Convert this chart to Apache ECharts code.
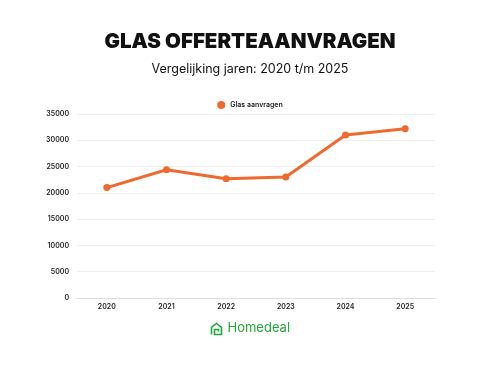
<!DOCTYPE html>
<html>
<head>
<meta charset="utf-8">
<script src="https://cdn.jsdelivr.net/npm/echarts@6/dist/echarts.min.js"></script>
<style>
    html, body { margin: 0; padding: 0; background: #fff; }
    #chart { width: 500px; height: 375px; }
</style>
</head>
<body>
<div id="chart"></div>
<script>
const years = ["2020", "2021", "2022", "2023", "2024", "2025"];
const aanvragen = [21000, 24400, 22700, 23000, 31000, 32200];
const orange = "#ee6a2f";

const chart = echarts.init(document.getElementById("chart"));
const option = {
    backgroundColor: "#fff",
    title: [
        {
            text: "GLAS OFFERTEAANVRAGEN",
            left: "center",
            top: 26,
            textStyle: { fontFamily: "Inter", fontSize: 20.5, fontWeight: 900, color: "#111" },
        },
        {
            text: "Vergelijking jaren: 2020 t/m 2025",
            left: "center",
            top: 58,
            textStyle: { fontFamily: "Inter", fontSize: 12.5, fontWeight: 400, color: "#111" },
        },
    ],
    legend: {
        top: 96,
        left: "center",
        icon: "circle",
        itemWidth: 8,
        itemHeight: 8,
        itemGap: 4,
        textStyle: { fontFamily: "Inter", fontSize: 7, fontWeight: 600, color: "#222" },
        data: ["Glas aanvragen"],
    },
    grid: { left: 77, right: 65, top: 114, bottom: 77 },
    xAxis: {
        type: "category",
        data: years,
        boundaryGap: true,
        axisTick: { show: false },
        axisLine: { lineStyle: { color: "#ddd" } },
        axisLabel: { fontFamily: "Inter", fontSize: 7, fontWeight: 600, color: "#222", margin: 5 },
    },
    yAxis: {
        type: "value",
        min: 0,
        max: 35000,
        interval: 5000,
        axisLabel: {
            fontFamily: "Inter", fontSize: 7, fontWeight: 600, color: "#222", margin: 8,
            formatter: (v) => String(v),
        },
        splitLine: { lineStyle: { color: "#eee" } },
    },
    series: [
        {
            name: "Glas aanvragen",
            type: "line",
            data: aanvragen,
            symbol: "circle",
            symbolSize: 7,
            lineStyle: { width: 3, color: orange },
            itemStyle: { color: orange },
        },
    ],
    graphic: [
        {
            type: "group",
            left: 209,
            top: 321,
            children: [
                {
                    type: "polyline",
                    shape: { points: [[1, 12], [1, 5], [6, 1], [11, 5], [11, 12], [4, 12], [4, 7], [8, 7], [8, 9]] },
                    style: { stroke: "#22a83a", lineWidth: 1.6, fill: null },
                },
                {
                    type: "text",
                    left: 17,
                    top: -1,
                    style: { text: "Homedeal", fontFamily: "Inter", fontSize: 13, fill: "#22a83a" },
                },
            ],
        },
    ],
};
chart.setOption(option);
</script>
</body>
</html>
